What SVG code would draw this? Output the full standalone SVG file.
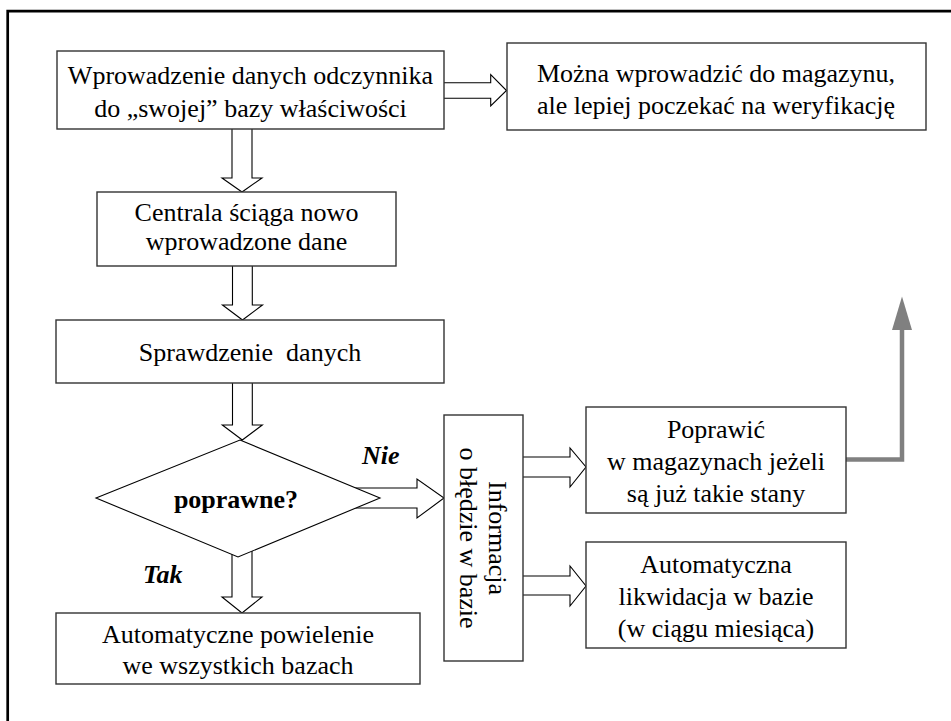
<svg xmlns="http://www.w3.org/2000/svg" width="951" height="721" viewBox="0 0 951 721">
<style>
  text { font-family: "Liberation Serif", "Times New Roman", serif; font-size: 26px; fill: #000; }
  .c { text-anchor: middle; }
  .b { font-weight: bold; }
  .bi { font-weight: bold; font-style: italic; }
  .box { fill: #fff; stroke: #333; stroke-width: 1.4; }
  .blk { fill: #fff; stroke: #000; stroke-width: 1.1; stroke-linejoin: miter; }
  .gray { fill: none; stroke: #808080; stroke-width: 4.5; }
</style>
<rect x="0" y="0" width="951" height="721" fill="#fff"/>
<path d="M951,11.2 H7.7 V721" fill="none" stroke="#000" stroke-width="2.7"/>

<g id="connectors">
  <polygon class="blk" points="232,125 252,125 252,178 262,178 242,192 222,178 232,178"/>
  <polygon class="blk" points="440,82.7 490.7,82.7 490.7,74.7 506.5,90.5 490.7,106 490.7,98.3 440,98.3"/>
  <polygon class="blk" points="232.5,262 252.3,262 252.3,305 262.5,305 242.5,320 222.5,305 232.5,305"/>
  <polygon class="blk" points="232.5,379 252.3,379 252.3,425 262.3,425 242.3,440 222.3,425 232.5,425"/>
  <polygon class="blk" points="232,540 252,540 252,597 262,597 242,613 222,597 232,597"/>
  <polygon class="blk" points="340,488 417,488 417,479 444,498 417,518 417,508 340,508"/>
  <polygon class="blk" points="519,457 570,457 570,448 586,467 570,487 570,477 519,477"/>
  <polygon class="blk" points="519,576 570,576 570,566 586,586 570,606 570,595 519,595"/>
  <polyline class="gray" points="846,459.5 902,459.5 902,328"/>
  <polygon points="892,330 912,330 902,296.5" fill="#808080"/>
</g>

<g id="node-wprowadzenie">
  <rect class="box" x="57" y="51" width="387" height="78"/>
  <text class="c" x="250.5" y="84">Wprowadzenie danych odczynnika</text>
  <text class="c" x="250.5" y="117">do „swojej” bazy właściwości</text>
</g>

<g id="node-mozna">
  <rect class="box" x="507" y="43" width="419" height="87"/>
  <text class="c" x="716" y="82">Można wprowadzić do magazynu,</text>
  <text class="c" x="716" y="114">ale lepiej poczekać na weryfikację</text>
</g>

<g id="node-centrala">
  <rect class="box" x="97" y="192" width="299" height="74"/>
  <text class="c" x="246.5" y="221">Centrala ściąga nowo</text>
  <text class="c" x="246.5" y="250">wprowadzone dane</text>
</g>

<g id="node-sprawdzenie">
  <rect class="box" x="56" y="320" width="388" height="63"/>
  <text class="c" x="250" y="361" xml:space="preserve">Sprawdzenie  danych</text>
</g>

<g id="node-decyzja">
  <polygon class="blk" points="240,440 380,498 238,557 96,498"/>
  <text class="c b" x="236" y="508">poprawne?</text>
</g>

<g id="label-nie">
  <text class="bi" x="362" y="464">Nie</text>
</g>
<g id="label-tak">
  <text class="bi" x="143" y="583">Tak</text>
</g>

<g id="node-powielenie">
  <rect class="box" x="56" y="613" width="364" height="71"/>
  <text class="c" x="238" y="643">Automatyczne powielenie</text>
  <text class="c" x="238" y="674">we wszystkich bazach</text>
</g>

<g id="node-informacja">
  <rect class="box" x="444" y="415" width="79" height="246"/>
  <g transform="rotate(90)">
    <text class="c" x="538" y="-489">Informacja</text>
    <text class="c" x="538" y="-460">o błędzie w bazie</text>
  </g>
</g>

<g id="node-poprawic">
  <rect class="box" x="586" y="407" width="260" height="106"/>
  <text class="c" x="716" y="438">Poprawić</text>
  <text class="c" x="716" y="470">w magazynach jeżeli</text>
  <text class="c" x="716" y="502">są już takie stany</text>
</g>

<g id="node-likwidacja">
  <rect class="box" x="586" y="542" width="260" height="106"/>
  <text class="c" x="716" y="573">Automatyczna</text>
  <text class="c" x="716" y="605">likwidacja w bazie</text>
  <text class="c" x="716" y="637">(w ciągu miesiąca)</text>
</g>
</svg>
